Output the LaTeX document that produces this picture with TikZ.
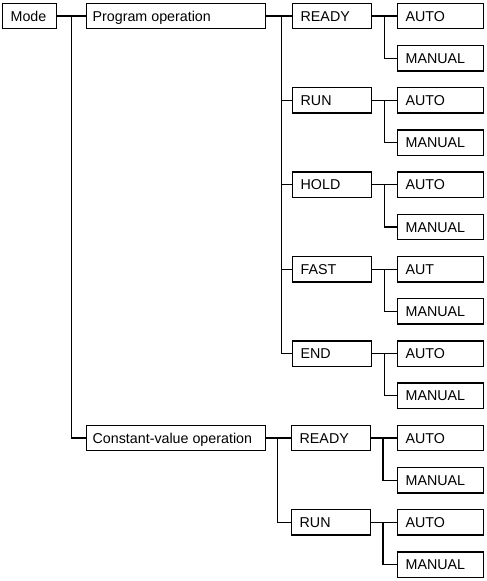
\documentclass[tikz,border=0pt]{standalone}
\usepackage{fontspec}
\setsansfont{Liberation Sans}
\usetikzlibrary{calc}
\tikzset{
    modebox/.style={
        draw=black,
        fill=white,
        line width=1pt,
        anchor=west,
        minimum height=19pt,
        inner xsep=6pt,
        inner ysep=0pt,
        text height=7.6pt,
        text depth=0pt,
        align=flush left,
        font=\sffamily\fontsize{10.7}{12}\selectfont
    },
    rootbox/.style={modebox, text width=28.5pt},
    operationbox/.style={modebox, inner xsep=4.5pt, text width=125.25pt},
    statebox/.style={modebox, text width=47.25pt},
    controlbox/.style={modebox, text width=52.5pt},
    treeline/.style={
        draw=black,
        line width=1pt
    }
}

\begin{document}
\begin{tikzpicture}[x=0.75pt,y=-0.75pt]
    \useasboundingbox (0,0) rectangle (486,581);

    % root and operations
    \node[rootbox] (mode) at (2,16) {Mode};
    \node[operationbox] (prog) at (86,16) {Program operation};
    \node[operationbox] (constval) at (86,438) {Constant-value operation};

    % states
    \node[statebox] (progready) at (292,16) {READY};
    \node[statebox] (progrun) at (292,100.4) {RUN};
    \node[statebox] (proghold) at (292,184.8) {HOLD};
    \node[statebox] (progfast) at (292,269.2) {FAST};
    \node[statebox] (progend) at (292,353.6) {END};
    \node[statebox] (cvready) at (291,438) {READY};
    \node[statebox] (cvrun) at (291,522.4) {RUN};

    % auto / manual
    \node[controlbox] (progreadyauto) at (397,16) {AUTO};
    \node[controlbox] (progreadymanual) at (397,58.2) {MANUAL};
    \node[controlbox] (progrunauto) at (397,100.4) {AUTO};
    \node[controlbox] (progrunmanual) at (397,142.6) {MANUAL};
    \node[controlbox] (progholdauto) at (397,184.8) {AUTO};
    \node[controlbox] (progholdmanual) at (397,227) {MANUAL};
    \node[controlbox] (progfastauto) at (397,269.2) {AUT};
    \node[controlbox] (progfastmanual) at (397,311.4) {MANUAL};
    \node[controlbox] (progendauto) at (397,353.6) {AUTO};
    \node[controlbox] (progendmanual) at (397,395.8) {MANUAL};
    \node[controlbox] (cvreadyauto) at (397,438) {AUTO};
    \node[controlbox] (cvreadymanual) at (397,480.2) {MANUAL};
    \node[controlbox] (cvrunauto) at (397,522.4) {AUTO};
    \node[controlbox] (cvrunmanual) at (397,564.6) {MANUAL};

    % mode branches
    \draw[treeline] (mode.east) -- (prog.west);
    \draw[treeline] ($(mode.east)!0.5!(prog.west)$) |- (constval.west);

    % program operation branches
    \draw[treeline] (prog.east) -- (progready.west);
    \draw[treeline] ($(prog.east)!0.6!(progready.west)$) |- (progrun.west);
    \draw[treeline] ($(prog.east)!0.6!(progready.west)$) |- (proghold.west);
    \draw[treeline] ($(prog.east)!0.6!(progready.west)$) |- (progfast.west);
    \draw[treeline] ($(prog.east)!0.6!(progready.west)$) |- (progend.west);

    % constant-value operation branches
    \draw[treeline] (constval.east) -- (cvready.west);
    \draw[treeline] ($(constval.east)!0.45!(cvready.west)$) |- (cvrun.west);

    % state branches
    \draw[treeline] (progready.east) -- (progreadyauto.west);
    \draw[treeline] ($(progready.east)!0.5!(progreadyauto.west)$) |- (progreadymanual.west);
    \draw[treeline] (progrun.east) -- (progrunauto.west);
    \draw[treeline] ($(progrun.east)!0.5!(progrunauto.west)$) |- (progrunmanual.west);
    \draw[treeline] (proghold.east) -- (progholdauto.west);
    \draw[treeline] ($(proghold.east)!0.5!(progholdauto.west)$) |- (progholdmanual.west);
    \draw[treeline] (progfast.east) -- (progfastauto.west);
    \draw[treeline] ($(progfast.east)!0.5!(progfastauto.west)$) |- (progfastmanual.west);
    \draw[treeline] (progend.east) -- (progendauto.west);
    \draw[treeline] ($(progend.east)!0.5!(progendauto.west)$) |- (progendmanual.west);
    \draw[treeline] (cvready.east) -- (cvreadyauto.west);
    \draw[treeline] ($(cvready.east)!0.45!(cvreadyauto.west)$) |- (cvreadymanual.west);
    \draw[treeline] (cvrun.east) -- (cvrunauto.west);
    \draw[treeline] ($(cvrun.east)!0.45!(cvrunauto.west)$) |- (cvrunmanual.west);
\end{tikzpicture}
\end{document}
